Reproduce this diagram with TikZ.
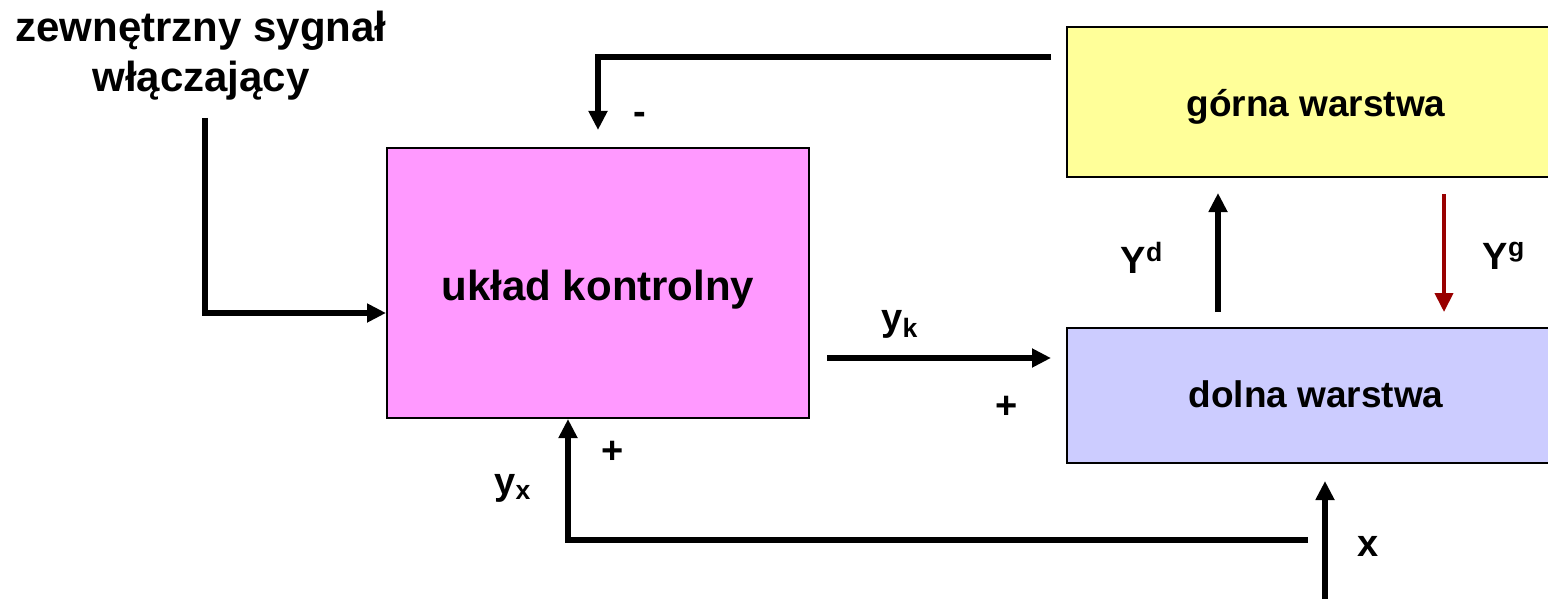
\documentclass[tikz,border=0pt]{standalone}
\usepackage{fontspec}
\setmainfont{Liberation Sans}
\usepackage{xcolor}
\definecolor{box-pink}{RGB}{255,153,255}
\definecolor{box-yellow}{RGB}{255,255,153}
\definecolor{box-blue}{RGB}{204,204,255}
\definecolor{sig-red}{RGB}{153,0,0}
\usetikzlibrary{arrows.meta,positioning}
\tikzset{
  block/.style={draw, line width=1pt, text depth=0pt, font=\fontsize{18.5}{22}\selectfont\bfseries},
  sig/.style={line width=2.6pt, -{Triangle[length=9.5pt,width=9pt]}},
  lbl/.style={inner sep=0pt, font=\fontsize{19}{22}\selectfont\bfseries},
}

\begin{document}
\begin{tikzpicture}[x=0.5pt,y=-0.5pt]
    \useasboundingbox (0,0) rectangle (1548,599);

    \node[block, fill=box-pink, minimum width=211pt, minimum height=135pt, text height=17.7pt,
          font=\fontsize{21}{25}\selectfont\bfseries] (kontr) at (598,283) {układ kontrolny};
    \node[block, fill=box-yellow, minimum width=249pt, minimum height=75pt, text height=14.6pt] (gorna) at (1316,102) {górna warstwa};
    \node[block, fill=box-blue, minimum width=249pt, minimum height=67.5pt, text height=11.8pt] (dolna) at (1316,395.5) {dolna warstwa};

    \node[lbl, align=center, font=\fontsize{21}{25}\selectfont\bfseries] (ext) at (201,55.5) {zewnętrzny sygnał\\włączający};

    \coordinate (ext-out) at (205,118);
    \draw[sig] (ext-out) |- ([yshift=-15pt]kontr.west);

    \coordinate (fb-in) at ([xshift=-7.5pt,yshift=22.5pt]gorna.west);
    \draw[sig] (fb-in) -| ([yshift=8.5pt]kontr.north);
    \node[lbl] (minus) at (640,118) {-};

    \coordinate (yk-in) at ([xshift=8.5pt,yshift=-37.5pt]kontr.east);
    \coordinate (yk-out) at ([xshift=-7.5pt,yshift=18.75pt]dolna.west);
    \draw[sig] (yk-in) -- (yk-out);
    \node[lbl] (yk) at (900,324) {y\textsubscript{k}};
    \node[lbl] (plus-k) at (1007,407) {+};

    \draw[sig] ([xshift=-49pt,yshift=7.5pt]dolna.north) -- ([xshift=-49pt,yshift=-7.5pt]gorna.south);
    \node[lbl] (yd) at (1142,258) {Y\textsuperscript{d}};

    \draw[sig, sig-red, line width=2pt] ([xshift=64pt,yshift=-8pt]gorna.south) -- ([xshift=64pt,yshift=7.5pt]dolna.north);
    \node[lbl] (yg) at (1504,256) {Y\textsuperscript{g}};

    \coordinate (x-in) at (1325,605);
    \draw[sig] (x-in) -- ([xshift=4.5pt,yshift=-8.5pt]dolna.south);
    \node[lbl] (x) at (1368,546) {x};

    \coordinate (yx-in) at (1308,540);
    \draw[sig] (yx-in) -| ([xshift=-15pt]kontr.south);
    \node[lbl] (yx) at (513,488) {y\textsubscript{x}};
    \node[lbl] (plus-x) at (613,452) {+};
\end{tikzpicture}
\end{document}
